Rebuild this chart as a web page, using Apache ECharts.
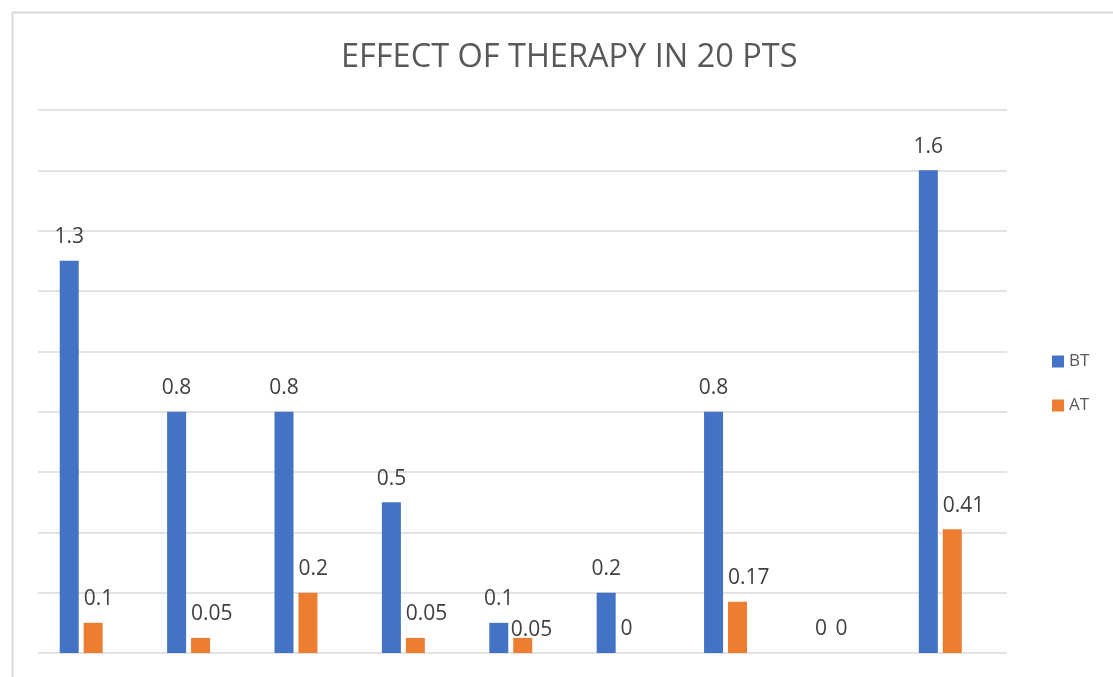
<!DOCTYPE html>
<html>
<head>
<meta charset="utf-8">
<script src="https://cdn.jsdelivr.net/npm/echarts@6/dist/echarts.min.js"></script>
<style>
  html, body { margin: 0; padding: 0; background: #fff; }
  #chart { width: 1113px; height: 677px; }
</style>
</head>
<body>
<div id="chart"></div>
<script>
// Patient groups along the horizontal axis (labels not shown)
const categories = ['1', '2', '3', '4', '5', '6', '7', '8', '9'];
// Scores before treatment (BT) and after treatment (AT)
const btValues = [1.3, 0.8, 0.8, 0.5, 0.1, 0.2, 0.8, 0, 1.6];
const atValues = [0.1, 0.05, 0.2, 0.05, 0.05, 0, 0.17, 0, 0.41];
const seriesNames = ['BT', 'AT'];
const titleText = 'EFFECT OF THERAPY IN 20 PTS';

const FONT = '"Open Sans", sans-serif';
const labelStyle = { color: '#404040', fontSize: 21, fontFamily: FONT };

// AT labels that would collide with the neighbouring BT label are pushed down
const atData = atValues.map(function (v, i) {
  if (i > 0 && Math.abs(btValues[i] - v) < 0.1 && btValues[i] > 0) {
    return { value: v, label: { offset: [-12, 16] } };
  }
  return v;
});

const chart = echarts.init(document.getElementById('chart'), null, { renderer: 'canvas' });

const valueAxisBase = {
  type: 'value', min: 0, max: 1.8, interval: 0.2,
  axisLabel: { show: false }, axisLine: { show: false }, axisTick: { show: false }
};

chart.setOption({
  animation: false,
  backgroundColor: '#ffffff',
  graphic: [{
    type: 'rect', left: 10, top: 10, silent: true,
    shape: { width: 1200, height: 800 },
    style: { fill: 'none', stroke: '#d9d9d9', lineWidth: 2 }
  }],
  title: {
    text: titleText, left: 336, top: 36,
    textStyle: { color: '#595959', fontSize: 32.5, fontWeight: 'normal', fontFamily: FONT }
  },
  legend: {
    data: seriesNames, orient: 'vertical', left: 1047, top: 348,
    icon: 'rect', itemWidth: 12, itemHeight: 12, itemGap: 27,
    textStyle: { color: '#595959', fontSize: 17, fontFamily: FONT }
  },
  grid: [
    // gridline area
    { left: 38, right: 106, top: 110, bottom: 24 },
    // bar area
    { left: 27.5, right: 119, top: 110, bottom: 24 }
  ],
  xAxis: [
    { type: 'category', gridIndex: 0, data: categories, show: false },
    { type: 'category', gridIndex: 1, data: categories,
      axisLabel: { show: false }, axisLine: { show: false }, axisTick: { show: false } }
  ],
  yAxis: [
    Object.assign({ gridIndex: 0, splitLine: { lineStyle: { color: '#e3e3e3', width: 2 } } }, valueAxisBase),
    Object.assign({ gridIndex: 1, splitLine: { show: false } }, valueAxisBase)
  ],
  series: [
    {
      name: seriesNames[0], type: 'bar', xAxisIndex: 1, yAxisIndex: 1,
      data: btValues, barWidth: 19, barGap: '26%',
      itemStyle: { color: '#4472C4' },
      label: Object.assign({ show: true, position: 'top', distance: 13 }, labelStyle)
    },
    {
      name: seriesNames[1], type: 'bar', xAxisIndex: 1, yAxisIndex: 1,
      data: atData, barWidth: 19, barGap: '26%',
      itemStyle: { color: '#ED7D31' },
      label: Object.assign({ show: true, position: 'top', distance: 13, align: 'left', offset: [-9.5, 0] }, labelStyle)
    }
  ]
});
</script>
</body>
</html>
